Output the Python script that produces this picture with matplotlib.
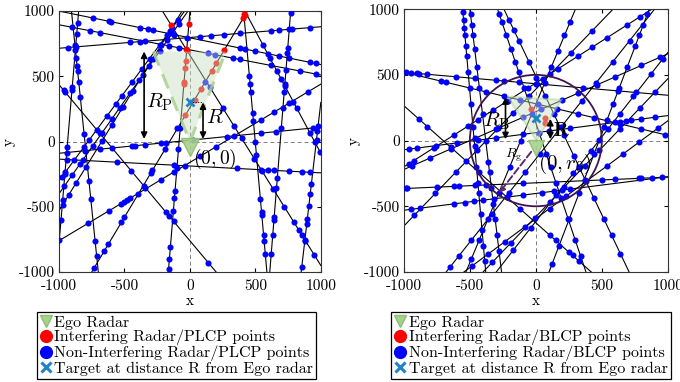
import matplotlib
matplotlib.use("Agg")
import matplotlib.pyplot as plt
from matplotlib.lines import Line2D
from matplotlib.patches import Polygon, Circle
import numpy as np

plt.rcParams['font.family'] = ['cmr10', 'DejaVu Serif']
plt.rcParams['mathtext.fontset'] = 'cm'
plt.rcParams['axes.unicode_minus'] = False

ticks = [-1000, -500, 0, 500, 1000]
tick_labels = ['-1000', '-500', '0', '500', '1000']

# left panel (PLCP): lines given by their end points on the window edge
left_lines = [
    (-1000, 1000, 1000, 590),
    (-1000, 895, 1000, 510),
    (-1000, 715, 1000, 880),
    (-1000, 435, 200, -1000),
    (-1000, -135, 1000, -240),
    (-1000, -90, 1000, 110),
    (-1000, -760, 1000, 440),
    (-1000, -300, -40, 1000),
    (-1000, -400, -15, 1000),
    (-1000, -530, -60, 1000),
    (-750, -1000, 440, 1000),
    (410, 1000, 588, -1000),
    (-210, 1000, 1000, -950),
    (420, 1000, 1000, -90),
    (770, 1000, 610, -1000),
    (1000, 300, 850, -1000),
    (-905, 1000, -700, -1000),
    (-850, 1000, -1000, -780),
    (-165, -1000, 0, 1000),
]
# positions of the points along each line (0 = first end, 1 = second end)
left_blue_t = [
    [0.13, 0.19, 0.2, 0.31, 0.34, 0.36, 0.44, 0.69, 0.71, 0.75, 0.8, 0.84, 0.88, 0.96, 0.98],
    [0.05, 0.12, 0.155, 0.33, 0.42, 0.46, 0.57, 0.595, 0.665, 0.69, 0.81, 0.92, 0.98],
    [0.035, 0.066, 0.27, 0.31, 0.49, 0.54, 0.58, 0.63, 0.69, 0.81, 0.84, 0.89, 0.96],
    [0.03, 0.04, 0.26, 0.34, 0.46, 0.54, 0.55, 0.68, 0.7, 0.73, 0.95],
    [0.03, 0.09, 0.22, 0.44, 0.68, 0.77, 0.8, 0.82, 0.88, 0.93, 0.96],
    [0.1, 0.155, 0.28, 0.29, 0.33, 0.39, 0.41, 0.51, 0.64, 0.77, 0.83, 0.97],
    [0.11, 0.19, 0.235, 0.25, 0.26, 0.27, 0.39, 0.44, 0.48, 0.54, 0.6, 0.67, 0.77, 0.82, 0.88, 0.95],
    [0.02, 0.05, 0.12, 0.2, 0.24, 0.3, 0.38, 0.45, 0.5, 0.58, 0.66, 0.72, 0.8, 0.86, 0.9, 0.95],
    [0.04, 0.1, 0.16, 0.26, 0.33, 0.41, 0.47, 0.55, 0.62, 0.7, 0.78, 0.84, 0.88, 0.93],
    [0.03, 0.08, 0.14, 0.22, 0.35, 0.43, 0.52, 0.6, 0.68, 0.76, 0.83, 0.9],
    [0.017, 0.08, 0.106, 0.19, 0.21, 0.3, 0.38, 0.39, 0.47, 0.55, 0.73],
    [0.25, 0.28, 0.31, 0.39, 0.42, 0.5, 0.55, 0.72, 0.77, 0.78, 0.86, 0.88, 0.93],
    [0.3, 0.38, 0.45, 0.5, 0.58, 0.63, 0.7, 0.77, 0.83, 0.86, 0.88, 0.9, 0.96],
    [0.24, 0.33, 0.42, 0.48, 0.53, 0.64, 0.68, 0.86, 0.92, 0.99],
    [0.008, 0.07, 0.14, 0.16, 0.226, 0.28, 0.31, 0.37, 0.45, 0.64, 0.68, 0.79, 0.8, 0.86, 0.93],
    [0.14, 0.17, 0.22, 0.48, 0.54, 0.61, 0.69, 0.72, 0.82, 0.97],
    [0.13, 0.15, 0.18, 0.21, 0.23, 0.27, 0.33, 0.47, 0.65, 0.72, 0.88, 0.94],
    [0.05, 0.1, 0.325, 0.34, 0.584, 0.613, 0.7, 0.815, 0.9, 0.987],
    [0.01, 0.05, 0.094, 0.234, 0.285, 0.31, 0.4, 0.47, 0.55],
]
left_red_t = [[], [], [], [], [], [], [], [], [], [],
              [0.6, 0.66, 0.7, 0.77, 0.8, 0.85, 0.973, 0.986],
              [0.01], [0.053, 0.15], [], [], [], [], [],
              [0.72, 0.73, 0.78, 0.81, 0.85, 0.95]]

# right panel (BLCP)
right_lines = [
    (-1000, 520, 1000, 345),
    (-1000, 520, 1000, 40),
    (-1000, 265, 420, -1000),
    (-1000, -365, 1000, -278),
    (-1000, -530, 1000, -275),
    (-1000, -200, 880, 1000),
    (-1000, -220, 1000, 660),
    (-680, -1000, 900, 1000),
    (-545, -1000, 1000, 150),
    (-400, -1000, 1000, 470),
    (100, -1000, 860, 1000),
    (-290, 1000, 380, -1000),
    (-242, 1000, 707, -1000),
    (-555, 1000, -380, -1000),
    (-500, 1000, -260, -1000),
    (-530, -1000, 300, 1000),
    (-1000, -70, 1000, 190),
    (-300, -1000, 1000, 670),
    (-1000, -650, 585, 1000),
]
right_blue_t = [
    [0.006, 0.025, 0.05, 0.057, 0.088, 0.196, 0.27, 0.35, 0.38, 0.435, 0.5, 0.68, 0.81, 0.88],
    [0.14, 0.16, 0.25, 0.31, 0.38, 0.44, 0.51, 0.58, 0.66, 0.72, 0.82, 0.9, 0.99],
    [0.08, 0.125, 0.25, 0.33, 0.4, 0.55, 0.62, 0.78, 0.81, 0.88, 0.9, 0.935],
    [0.006, 0.013, 0.126, 0.19, 0.21, 0.27, 0.31, 0.45, 0.75, 0.8, 0.89, 0.9, 0.94, 0.98],
    [0.025, 0.06, 0.19, 0.23, 0.265, 0.3, 0.34, 0.45, 0.525, 0.57, 0.6, 0.63],
    [0.02, 0.04, 0.12, 0.2, 0.26, 0.3, 0.36, 0.42, 0.5, 0.56, 0.62, 0.7, 0.76, 0.82, 0.9, 0.95],
    [0.03, 0.1, 0.18, 0.27, 0.35, 0.45, 0.52, 0.6, 0.66, 0.73, 0.8, 0.9, 0.97],
    [0.02, 0.06, 0.12, 0.22, 0.3, 0.38, 0.45, 0.55, 0.65, 0.72, 0.8, 0.88],
    [0.04, 0.12, 0.2, 0.3, 0.42, 0.5, 0.6, 0.7, 0.78, 0.86, 0.95],
    [0.05, 0.15, 0.28, 0.36, 0.44, 0.55, 0.63, 0.74, 0.85, 0.93],
    [0.03, 0.1, 0.2, 0.3, 0.45, 0.55, 0.58, 0.64, 0.7, 0.78, 0.86, 0.9, 0.94, 0.98],
    [0.02, 0.05, 0.1, 0.15, 0.2, 0.24, 0.3, 0.47, 0.55, 0.6, 0.66, 0.72, 0.8, 0.88, 0.94],
    [0.04, 0.08, 0.12, 0.2, 0.26, 0.33, 0.4, 0.48, 0.56, 0.6, 0.65, 0.72, 0.8, 0.86, 0.93],
    [0.01, 0.04, 0.07, 0.1, 0.14, 0.18, 0.24, 0.36, 0.45, 0.52, 0.6, 0.66, 0.7, 0.78, 0.84, 0.9, 0.96],
    [0.02, 0.06, 0.1, 0.15, 0.22, 0.3, 0.4, 0.5, 0.58, 0.62, 0.68, 0.74, 0.8, 0.86, 0.92],
    [0.05, 0.12, 0.2, 0.3, 0.4, 0.5, 0.6, 0.72, 0.78, 0.84, 0.9, 0.95],
    [0.02, 0.05, 0.12, 0.2, 0.28, 0.35, 0.45, 0.55, 0.63, 0.8, 0.82, 0.84, 0.86, 0.9, 0.95],
    [0.1, 0.2, 0.35, 0.45, 0.55, 0.6, 0.65, 0.72, 0.8, 0.9, 0.97],
    [0.05, 0.15, 0.25, 0.35, 0.45, 0.52, 0.6, 0.7, 0.8, 0.9],
]
right_red_t = [[] for _ in right_lines]
right_red_t[11] = [0.38]
right_red_x = [71, 66]
right_red_y = [175, 134]

# radar wedges, targets, circle
left_wedge = [(0, 0), (-280, 690), (275, 690)]
right_wedge = [(5, 0), (-215, 335), (195, 310)]
left_target = (0, 300)
right_target = (0, 175)
circle_r = 500

GREEN = '#a9d18e'
WEDGE = '#c7dfbf'
TGT = '#1f84c6'
DOT = 4.4


def draw_points(ax, lines, blue_t, red_t):
    for (x0, y0, x1, y1), tb, tr in zip(lines, blue_t, red_t):
        ax.plot([x0, x1], [y0, y1], color='k', lw=0.8, zorder=2)
        tb = np.array(tb)
        ax.plot(x0 + (x1 - x0) * tb, y0 + (y1 - y0) * tb, 'o', color='blue',
                ms=DOT, mec='none', zorder=3)
        if tr:
            tr = np.array(tr)
            ax.plot(x0 + (x1 - x0) * tr, y0 + (y1 - y0) * tr, 'o', color='red',
                    ms=DOT, mec='none', zorder=3)


def setup(ax):
    ax.set_xlim(-1000, 1000)
    ax.set_ylim(-1000, 1000)
    ax.set_xticks(ticks)
    ax.set_xticklabels(tick_labels)
    ax.set_yticks(ticks)
    ax.set_yticklabels(tick_labels)
    ax.tick_params(direction='in', top=True, right=True, length=3, labelsize=11)
    ax.tick_params(axis='x', pad=5)
    ax.tick_params(axis='y', pad=3)
    ax.axhline(0, color='gray', lw=0.7, ls=(0, (4, 3)), zorder=1.5)
    ax.axvline(0, color='gray', lw=0.7, ls=(0, (4, 3)), zorder=1.5)
    ax.set_xlabel('x', fontsize=11, labelpad=1)
    ax.set_ylabel('y', fontsize=11, labelpad=2)
    for s in ax.spines.values():
        s.set_linewidth(0.8)
        s.set_color('#333333')


def arrow(ax, x, y0, y1, lw=1.2):
    ax.annotate('', xy=(x, y1), xytext=(x, y0),
                arrowprops=dict(arrowstyle='<|-|>', color='k', lw=lw,
                                mutation_scale=9, shrinkA=0, shrinkB=0), zorder=6)


def legend(fig, x, word):
    handles = [
        Line2D([], [], ls='none', marker='v', ms=8, mfc=GREEN, mec='#8cbf6e'),
        Line2D([], [], ls='none', marker='o', ms=8.5, color='red'),
        Line2D([], [], ls='none', marker='o', ms=8.5, color='blue'),
        Line2D([], [], ls='none', marker='x', ms=7, mew=2.2, color=TGT),
    ]
    labels = ['Ego Radar', 'Interfering Radar/%s points' % word,
              'Non-Interfering Radar/%s points' % word,
              'Target at distance R from Ego radar']
    leg = fig.legend(handles, labels, loc='upper left', bbox_to_anchor=(x, 0.183),
                     fontsize=11.5, frameon=True, fancybox=False, edgecolor='k',
                     framealpha=1, handlelength=0.7, handletextpad=0.2,
                     labelspacing=0.02, borderpad=0.2, borderaxespad=0)
    leg.get_frame().set_linewidth(0.9)


fig = plt.figure(figsize=(6.8, 3.82), dpi=100)
ax1 = fig.add_axes([0.0868, 0.288, 0.385, 0.683])
ax2 = fig.add_axes([0.594, 0.288, 0.388, 0.688])

# left
setup(ax1)
draw_points(ax1, left_lines, left_blue_t, left_red_t)
ax1.add_patch(Polygon(left_wedge, closed=True, facecolor=WEDGE, alpha=0.45,
                      edgecolor='none', zorder=4))
wx = [left_wedge[1][0], left_wedge[0][0], left_wedge[2][0]]
wy = [left_wedge[1][1], left_wedge[0][1], left_wedge[2][1]]
ax1.plot(wx, wy, color=GREEN, lw=2.2, ls=(0, (5, 3)), alpha=0.85, zorder=4.5)
ax1.plot(0, -45, marker='v', ms=13, mfc=GREEN, mec='#8cbf6e', alpha=0.9, zorder=5)
ax1.plot([left_target[0], 100], [left_target[1], left_target[1]], color='k', lw=0.7, ls=':', zorder=5)
ax1.plot(*left_target, marker='x', ms=6, mew=2, color=TGT, zorder=6)
arrow(ax1, -350, 690, 20)
arrow(ax1, 100, 300, 20)
ax1.text(-230, 300, r'$R_{\mathrm{P}}$', fontsize=15, ha='center', va='center', zorder=7)
ax1.text(190, 180, r'$R$', fontsize=15, ha='center', va='center', zorder=7)
ax1.text(25, -130, r'$(0,0)$', fontsize=14, ha='left', va='center', zorder=7)

# right
setup(ax2)
draw_points(ax2, right_lines, right_blue_t, right_red_t)
ax2.plot(right_red_x, right_red_y, 'o', color='red', ms=DOT, mec='none', zorder=3)
ax2.add_patch(Circle((0, 0), circle_r, fill=False, edgecolor='#3d1450', lw=1.3, zorder=4))
ax2.add_patch(Polygon(right_wedge, closed=True, facecolor=WEDGE, alpha=0.45,
                      edgecolor=GREEN, lw=1.5, zorder=4))
ax2.plot(0, -60, marker='v', ms=12, mfc=GREEN, mec='#8cbf6e', alpha=0.9, zorder=5)
ax2.plot(*right_target, marker='x', ms=5.5, mew=2, color=TGT, zorder=6)
arrow(ax2, -230, 330, 10)
arrow(ax2, 110, 165, 10)
ax2.annotate('', xy=(-280, -400), xytext=(-35, -85),
             arrowprops=dict(arrowstyle='-|>', color='#5b2a6e', lw=1.4, ls='--',
                             mutation_scale=8, shrinkA=0, shrinkB=0), zorder=6)
ax2.text(-300, 150, r'$R_{\mathrm{B}}$', fontsize=15, ha='center', va='center', zorder=7)
ax2.text(195, 75, r'$\mathbf{R}$', fontsize=14, ha='center', va='center', zorder=7)
ax2.text(-170, -115, r'$R_{\mathrm{g}}$', fontsize=10, ha='center', va='center', zorder=7)
ax2.text(15, -180, r'$(0,r_0)$', fontsize=15, ha='left', va='center', zorder=7)

legend(fig, 0.054, 'PLCP')
legend(fig, 0.575, 'BLCP')

fig.savefig('out.png', dpi=100)
